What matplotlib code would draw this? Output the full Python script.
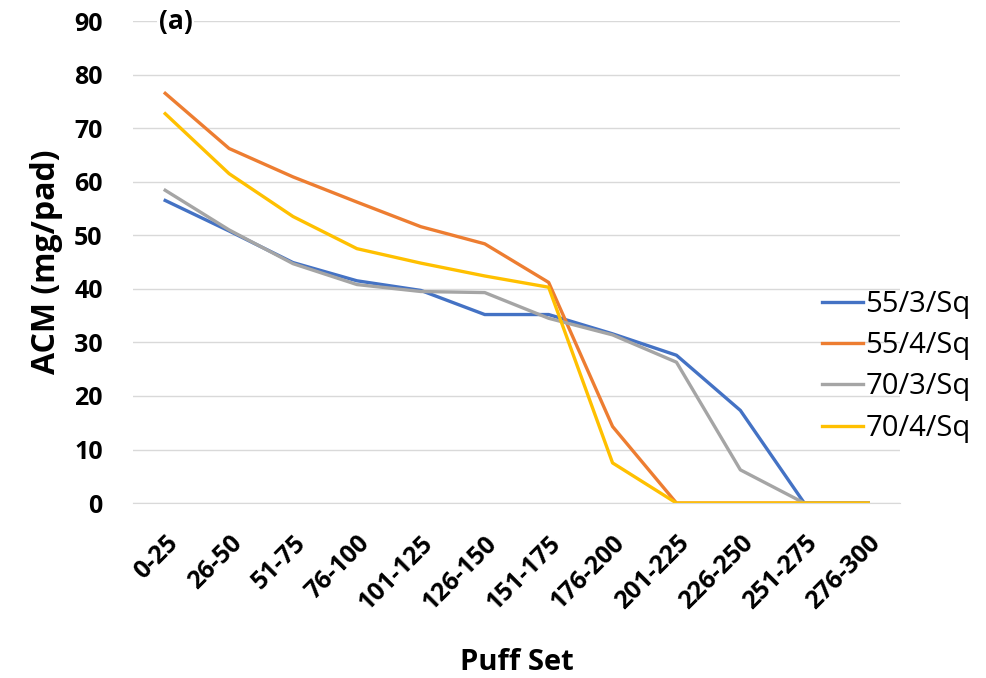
import matplotlib
matplotlib.use("Agg")
import matplotlib.pyplot as plt

categories = ["0-25", "26-50", "51-75", "76-100", "101-125", "126-150",
              "151-175", "176-200", "201-225", "226-250", "251-275", "276-300"]
s_55_3 = [56.5, 50.8, 44.9, 41.5, 39.7, 35.2, 35.2, 31.6, 27.6, 17.3, 0, 0]
s_55_4 = [76.5, 66.2, 60.9, 56.2, 51.6, 48.4, 41.2, 14.3, 0, 0, 0, 0]
s_70_3 = [58.4, 51.0, 44.7, 40.8, 39.5, 39.3, 34.5, 31.4, 26.3, 6.2, 0, 0]
s_70_4 = [72.7, 61.5, 53.5, 47.5, 44.8, 42.4, 40.3, 7.5, 0, 0, 0, 0]
series_names = ["55/3/Sq", "55/4/Sq", "70/3/Sq", "70/4/Sq"]
colors = ["#4472C4", "#ED7D31", "#A5A5A5", "#FFC000"]
yticks = [0, 10, 20, 30, 40, 50, 60, 70, 80, 90]

plt.rcParams['font.family'] = ['Open Sans', 'DejaVu Sans']

fig = plt.figure(figsize=(9.87, 6.78), dpi=100)
ax = fig.add_axes([0.135, 0.258, 0.777, 0.711])

x = list(range(len(categories)))
for vals, name, c in zip([s_55_3, s_55_4, s_70_3, s_70_4], series_names, colors):
    ax.plot(x, vals, color=c, lw=2.4, label=name)

ax.set_xlim(-0.5, len(categories) - 0.5)
ax.set_ylim(0, 90)
ax.set_yticks(yticks)
ax.set_yticklabels([str(t) for t in yticks], fontsize=18, fontweight='bold')
ax.set_xticks(x)
ax.set_xticklabels(categories, rotation=45, ha='right', rotation_mode='anchor',
                   fontsize=18, fontweight='bold')
ax.tick_params(axis='y', length=0, pad=22)
ax.tick_params(axis='x', length=0, pad=20)
ax.grid(axis='y', color='#D9D9D9', lw=1)
ax.set_axisbelow(True)
for sp in ['top', 'right', 'left']:
    ax.spines[sp].set_visible(False)
ax.spines['bottom'].set_color('#D9D9D9')

ax.set_ylabel("ACM (mg/pad)", fontsize=23, fontweight='bold', labelpad=8)
ax.set_xlabel("Puff Set", fontsize=21, fontweight='bold', labelpad=24)

ax.text(-0.1, 90, "(a)", fontsize=19, fontweight='bold', va='center', ha='left',
        bbox=dict(facecolor='white', edgecolor='none', pad=1))

leg = fig.legend(loc='upper left', bbox_to_anchor=(822 / 987, 1 - 290 / 678),
                 bbox_transform=fig.transFigure, frameon=False,
                 fontsize=21, handlelength=1.4, handletextpad=0.08, labelspacing=0.42,
                 borderaxespad=0, borderpad=0)

fig.savefig("out.png", dpi=100)
